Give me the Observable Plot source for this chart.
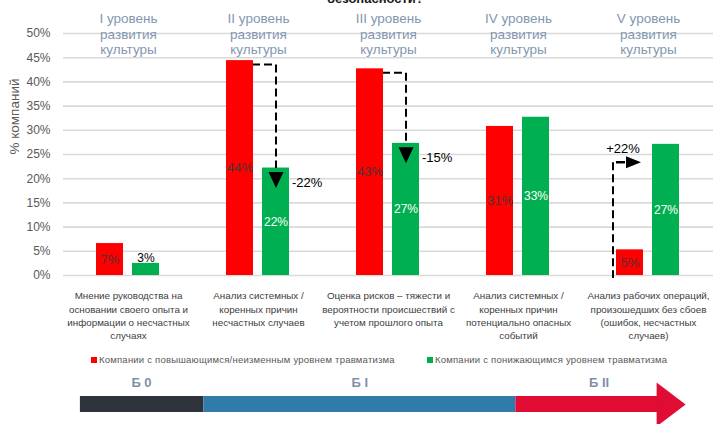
<!DOCTYPE html>
<html><head><meta charset="utf-8">
<script src="https://cdn.jsdelivr.net/npm/d3@7"></script>
<script src="https://cdn.jsdelivr.net/npm/@observablehq/plot@0.6"></script>
<style>
html,body{margin:0;padding:0;background:#fff;overflow:hidden;}
#chart{position:relative;width:713px;height:424px;font-family:"Liberation Sans",Arial,sans-serif;overflow:hidden;background:#fff;}
.abs{position:absolute;}
#title{top:-8px;left:327px;font-weight:bold;font-size:13px;line-height:13px;color:#1a1a1a;white-space:nowrap;}
.leg{top:354px;height:12px;font-size:9.5px;line-height:12px;color:#595959;letter-spacing:0.22px;white-space:nowrap;display:flex;align-items:center;}
.sw{width:6px;height:6px;margin-right:2px;display:inline-block;}
</style></head><body>
<div id="chart">
  <div id="main" class="abs" style="left:0;top:0"></div>
  <div id="title" class="abs"></div>
  <div id="legend"></div>
  <div id="stage" class="abs" style="left:0;top:370px"></div>
</div>
<script>
// ---- data ----
const titleText = "безопасности?";
const groups = ["I", "II", "III", "IV", "V"];
const topLabels = [
  "I уровень\nразвития\nкультуры",
  "II уровень\nразвития\nкультуры",
  "III уровень\nразвития\nкультуры",
  "IV уровень\nразвития\nкультуры",
  "V уровень\nразвития\nкультуры"
];
const bottomLabels = [
  "Мнение руководства на\nосновании своего опыта и\nинформации о несчастных\nслучаях",
  "Анализ системных /\nкоренных причин\nнесчастных случаев",
  "Оценка рисков – тяжести и\nвероятности происшествий с\nучетом прошлого опыта",
  "Анализ системных /\nкоренных причин\nпотенциально опасных\nсобытий",
  "Анализ рабочих операций,\nпроизошедших без сбоев\n(ошибок, несчастных\nслучаев)"
];
const seriesKeys = ["r", "g"];
const seriesNames = [
  "Компании с повышающимся/неизменным уровнем травматизма",
  "Компании с понижающимся уровнем травматизма"
];
const redValues = [6.6, 44.4, 42.7, 30.8, 5.3];
const greenValues = [2.5, 22.2, 27.3, 32.7, 27.1];
const yTicks = [0, 5, 10, 15, 20, 25, 30, 35, 40, 45, 50];
const yLabel = "% компаний";
const changeGroups = ["II", "III", "V"];
const changeLabels = ["-22%", "-15%", "+22%"];
const stages = ["Б 0", "Б I", "Б II"];
const stageStart = [0.13, 1.08, 3.48];
const stageEnd = [1.08, 3.48, 4.57];
const stageLabelPos = [0.6, 2.28, 4.12];

// ---- styles ----
const RED = "#FF0000", GREEN = "#00B050";
const FONT = "Liberation Sans, Arial, sans-serif";
const stageColors = ["#2E323B", "#317BAB", "#E00C34"];

// ---- derived tables ----
const bars = groups.flatMap((g, i) => [
  {group: g, s: "r", value: redValues[i]},
  {group: g, s: "g", value: greenValues[i]}
]);
const changes = changeGroups.map((g, i) => {
  const k = groups.indexOf(g);
  return {group: g, from: redValues[k], to: greenValues[k], label: changeLabels[i]};
});
const downs = changes.filter(d => d.to < d.from);
const ups = changes.filter(d => d.to > d.from);

const downTri = {draw(ctx) { ctx.moveTo(-7.5, 0); ctx.lineTo(7.5, 0); ctx.lineTo(0, 16); ctx.closePath(); }};
const rightTri = {draw(ctx) { ctx.moveTo(0, -6); ctx.lineTo(15, 0); ctx.lineTo(0, 6); ctx.closePath(); }};
const headTri = {draw(ctx) { ctx.moveTo(-1, -22); ctx.lineTo(28, 0); ctx.lineTo(-1, 22); ctx.closePath(); }};

const dash = {stroke: "black", strokeWidth: 2, strokeDasharray: "8,4"};

const main = Plot.plot({
  width: 713, height: 345,
  marginTop: 33, marginBottom: 70, marginLeft: 63, marginRight: 0,
  style: {fontFamily: FONT, background: "white"},
  fx: {domain: groups, padding: 0, axis: null, label: null},
  x: {domain: seriesKeys, paddingInner: 0.243, paddingOuter: 0.88, axis: null, label: null},
  y: {domain: [0, 50], label: null},
  color: {domain: seriesKeys, range: [RED, GREEN]},
  marks: [
    Plot.ruleY(yTicks, {stroke: "#d9d9d9", strokeWidth: 1.6}),
    Plot.axisY(yTicks, {tickSize: 0, tickPadding: 13, tickFormat: d => d + "%", fontSize: 12, color: "#595959", label: null}),
    Plot.text([yLabel], {fx: () => groups[0], frameAnchor: "left", dx: -49, rotate: -90, fontSize: 13.5, fill: "#595959", text: d => d}),
    // top level labels
    Plot.text(groups, {fx: d => d, text: (d, i) => topLabels[i], frameAnchor: "top", lineAnchor: "middle", lineHeight: 1.16, fontSize: 13.5, fill: "#8497B0"}),
    // bottom category labels
    Plot.text(groups, {fx: d => d, text: (d, i) => bottomLabels[i], frameAnchor: "bottom", lineAnchor: "top", dy: 14.5, lineHeight: 1.35, fontSize: 9.8, fill: "#404040"}),
    // horizontal dashed part (under bars)
    Plot.link(downs, {fx: "group", x1: () => "r", x2: () => "g", y1: d => d.from - 0.8, y2: d => d.from - 0.8, ...dash}),
    Plot.barY(bars, {fx: "group", x: "s", y: "value", fill: "s"}),
    // vertical dashed part + arrowhead
    Plot.link(downs, {fx: "group", x1: () => "g", x2: () => "g", y1: d => d.from - 0.8, y2: d => d.to, ...dash}),
    Plot.dot(downs, {fx: "group", x: () => "g", y: d => d.to - 0.8, symbol: downTri, fill: "black"}),
    Plot.text(downs, {fx: "group", x: () => "g", y: d => d.to - 3, dx: 16, textAnchor: "start", text: "label", fontSize: 13, fill: "black"}),
    // upward change arrow
    Plot.link(ups, {fx: "group", x1: () => "r", x2: () => "r", y1: d => d.to - 3.7, y2: -0.5, dx: -17, ...dash}),
    Plot.tickY(ups, {fx: "group", x: () => "r", y: d => d.to - 3.7, insetRight: 18, stroke: "black", strokeWidth: 2.5}),
    Plot.dot(ups, {fx: "group", x: () => "r", y: d => d.to - 3.7, dx: -4, symbol: rightTri, fill: "black"}),
    Plot.text(ups, {fx: "group", x: () => "r", y: d => d.to - 1, dx: -7, text: "label", fontSize: 13, fill: "black"}),
    // bar value labels
    Plot.text(bars.filter(d => d.s === "r"), {fx: "group", x: "s", y: d => d.value / 2, text: d => Math.round(d.value) + "%", fontSize: 13, fill: "#4a3535"}),
    Plot.text(bars.filter(d => d.s === "g" && d.value >= 4), {fx: "group", x: "s", y: d => d.value / 2, text: d => Math.round(d.value) + "%", fontSize: 12, fill: "white"}),
    Plot.text(bars.filter(d => d.s === "g" && d.value < 4), {fx: "group", x: "s", y: "value", lineAnchor: "bottom", dy: -1, text: d => Math.round(d.value) + "%", fontSize: 12, fill: "black"})
  ]
});
document.getElementById("main").appendChild(main);
document.getElementById("title").textContent = titleText;

// legend
const legend = document.getElementById("legend");
const legLeft = [91, 427];
seriesNames.forEach((name, i) => {
  const item = document.createElement("div");
  item.className = "abs leg";
  item.style.left = legLeft[i] + "px";
  const sw = document.createElement("span");
  sw.className = "sw";
  sw.style.background = [RED, GREEN][i];
  item.appendChild(sw);
  item.appendChild(document.createTextNode(name));
  legend.appendChild(item);
});

// stage bar
const stagePlot = Plot.plot({
  width: 713, height: 54,
  marginTop: 0, marginBottom: 0, marginLeft: 63, marginRight: 0,
  style: {fontFamily: FONT, background: "transparent"},
  x: {domain: [0, 5], axis: null},
  color: {type: "identity"},
  marks: [
    Plot.rect(stages, {x1: (d, i) => stageStart[i], x2: (d, i) => stageEnd[i], fill: (d, i) => stageColors[i], insetTop: 26, insetBottom: 12}),
    Plot.dot([stageEnd[2]], {x: d => d, frameAnchor: "top", dy: 34, symbol: headTri, fill: stageColors[2]}),
    Plot.text(stages, {x: (d, i) => stageLabelPos[i], frameAnchor: "top", dy: 12, lineAnchor: "middle", text: d => d, fontSize: 13, fontWeight: "bold", fill: "#8090A8"})
  ]
});
document.getElementById("stage").appendChild(stagePlot);
</script>
</body></html>
